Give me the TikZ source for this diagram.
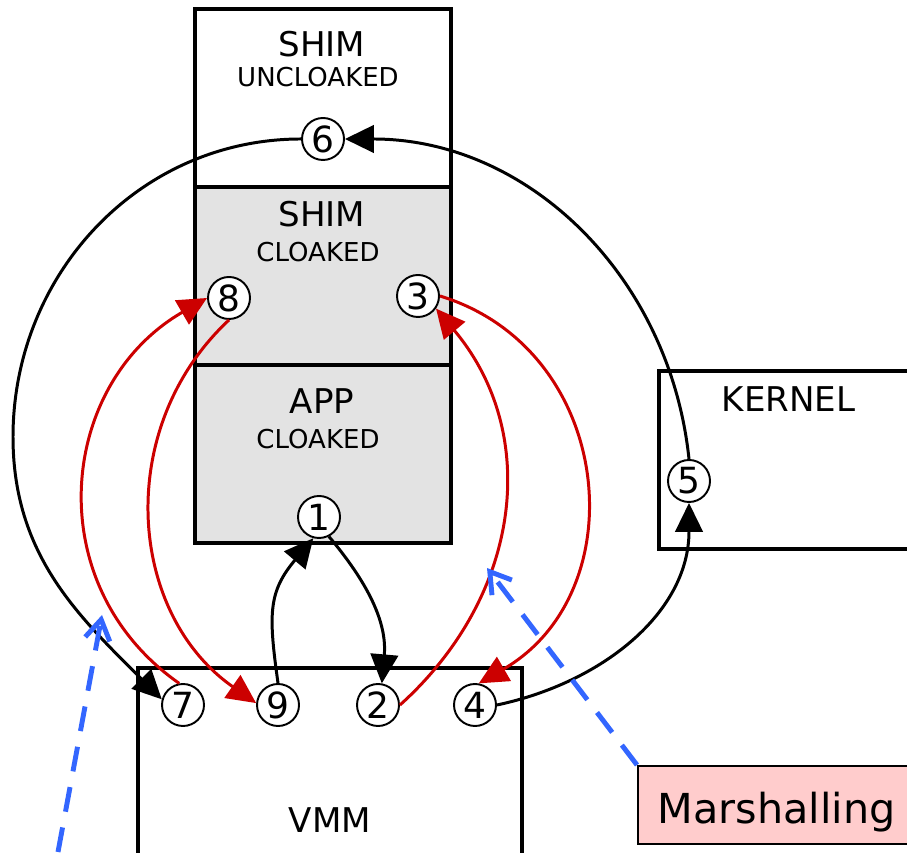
\documentclass[tikz,border=0pt]{standalone}
\usepackage{fontspec}
\setmainfont{DejaVu Sans}
\usetikzlibrary{arrows.meta,positioning}
\definecolor{cloakgray}{HTML}{E3E3E3}
\definecolor{callred}{HTML}{CC0000}
\definecolor{noteblue}{HTML}{3366FF}
\definecolor{notepink}{HTML}{FFCCCC}
\tikzset{
    layer/.style={draw,line width=1.8pt,minimum width=5.12cm,minimum height=3.56cm,inner sep=0pt,outer sep=0pt,anchor=north west},
    stepnum/.style={circle,draw,fill=white,line width=1.1pt,minimum size=0.84cm,inner sep=0pt,font=\fontsize{20.5}{24}\selectfont},
    call/.style={line width=1.7pt,-{Triangle[length=0.58cm,width=0.55cm]}},
    redcall/.style={call,callred},
    note/.style={noteblue,line width=2.8pt,dash pattern=on 0.5cm off 0.32cm,-{Straight Barb[length=4mm,width=5mm]}},
    title/.style={anchor=base,font=\fontsize{19.4}{23}\selectfont},
    subtitle/.style={anchor=base,font=\fontsize{14.8}{18}\selectfont}
}

\begin{document}
\begin{tikzpicture}
    \clip (0,0) rectangle (18.14,17.04);
    % boxes
    \node[layer] (shimU) at (3.90,16.86) {};
    \node[layer,fill=cloakgray,below=0pt of shimU] (shimC) {};
    \node[layer,fill=cloakgray,below=0pt of shimC] (appC) {};
    \node[layer,minimum width=6cm] (kernel) at (13.18,9.62) {};
    \node[layer,minimum width=7.68cm,minimum height=4cm] (vmm) at (2.76,3.68) {};
    \node[draw,fill=notepink,line width=1pt,minimum width=5.56cm,minimum height=1.56cm,anchor=north west] (marsh) at (12.74,1.74) {};
    % box texts
    \node[title] (tShimU) at (6.44,15.90) {SHIM};
    \node[subtitle] (sShimU) at (6.36,15.30) {UNCLOAKED};
    \node[title] (tShimC) at (6.44,12.50) {SHIM};
    \node[subtitle] (sShimC) at (6.36,11.80) {CLOAKED};
    \node[title] (tApp) at (6.44,8.76) {APP};
    \node[subtitle] (sApp) at (6.36,8.06) {CLOAKED};
    \node[title] (tKernel) at (15.77,8.80) {KERNEL};
    \node[title] (tVmm) at (6.60,0.40) {VMM};
    \node[anchor=base,font=\fontsize{23.5}{28}\selectfont] (tMarsh) at (15.53,0.58) {Marshalling};
    % steps
    \node[stepnum] (n1) at (6.38,6.70) {1};
    \node[stepnum] (n2) at (7.56,2.94) {2};
    \node[stepnum] (n3) at (8.36,11.12) {3};
    \node[stepnum] (n4) at (9.50,2.94) {4};
    \node[stepnum] (n5) at (13.78,7.42) {5};
    \node[stepnum] (n6) at (6.46,14.26) {6};
    \node[stepnum] (n7) at (3.66,2.94) {7};
    \node[stepnum] (n8) at (4.58,11.08) {8};
    \node[stepnum] (n9) at (5.56,2.94) {9};
    \coordinate (wayL) at (0.26,8.30);
    % calls
    \draw[call] (n1.-63) to[out=-50,in=85] (n2.80);
    \draw[call] (n9.north) to[out=98,in=-130,looseness=1.2] (n1.-105);
    \draw[call] (n4.east) to[out=12,in=-90] (n5.south);
    \draw[call] (n5.north) to[out=96,in=0] (n6.east);
    \draw[call] (n6.west) to[out=180,in=90] (wayL) to[out=-90,in=135] (n7.165);
    \draw[redcall] (n7.100) to[out=145,in=210,looseness=1.14] (n8.west);
    \draw[redcall] (n8.south) to[out=223,in=145,looseness=1.05] (n9.175);
    \draw[redcall] (n2.east) to[out=42,in=-50,looseness=1.05] (n3.-35);
    \draw[redcall] (n3.east) to[out=-17,in=30,looseness=1.2] (n4.80);
    % notes
    \coordinate (srcL) at (1.16,0);
    \coordinate (tipL) at (2.04,4.74);
    \coordinate (tipR) at (9.74,5.68);
    \draw[note] (srcL) -- (tipL);
    \draw[note] (marsh.north west) -- (tipR);
\end{tikzpicture}
\end{document}
